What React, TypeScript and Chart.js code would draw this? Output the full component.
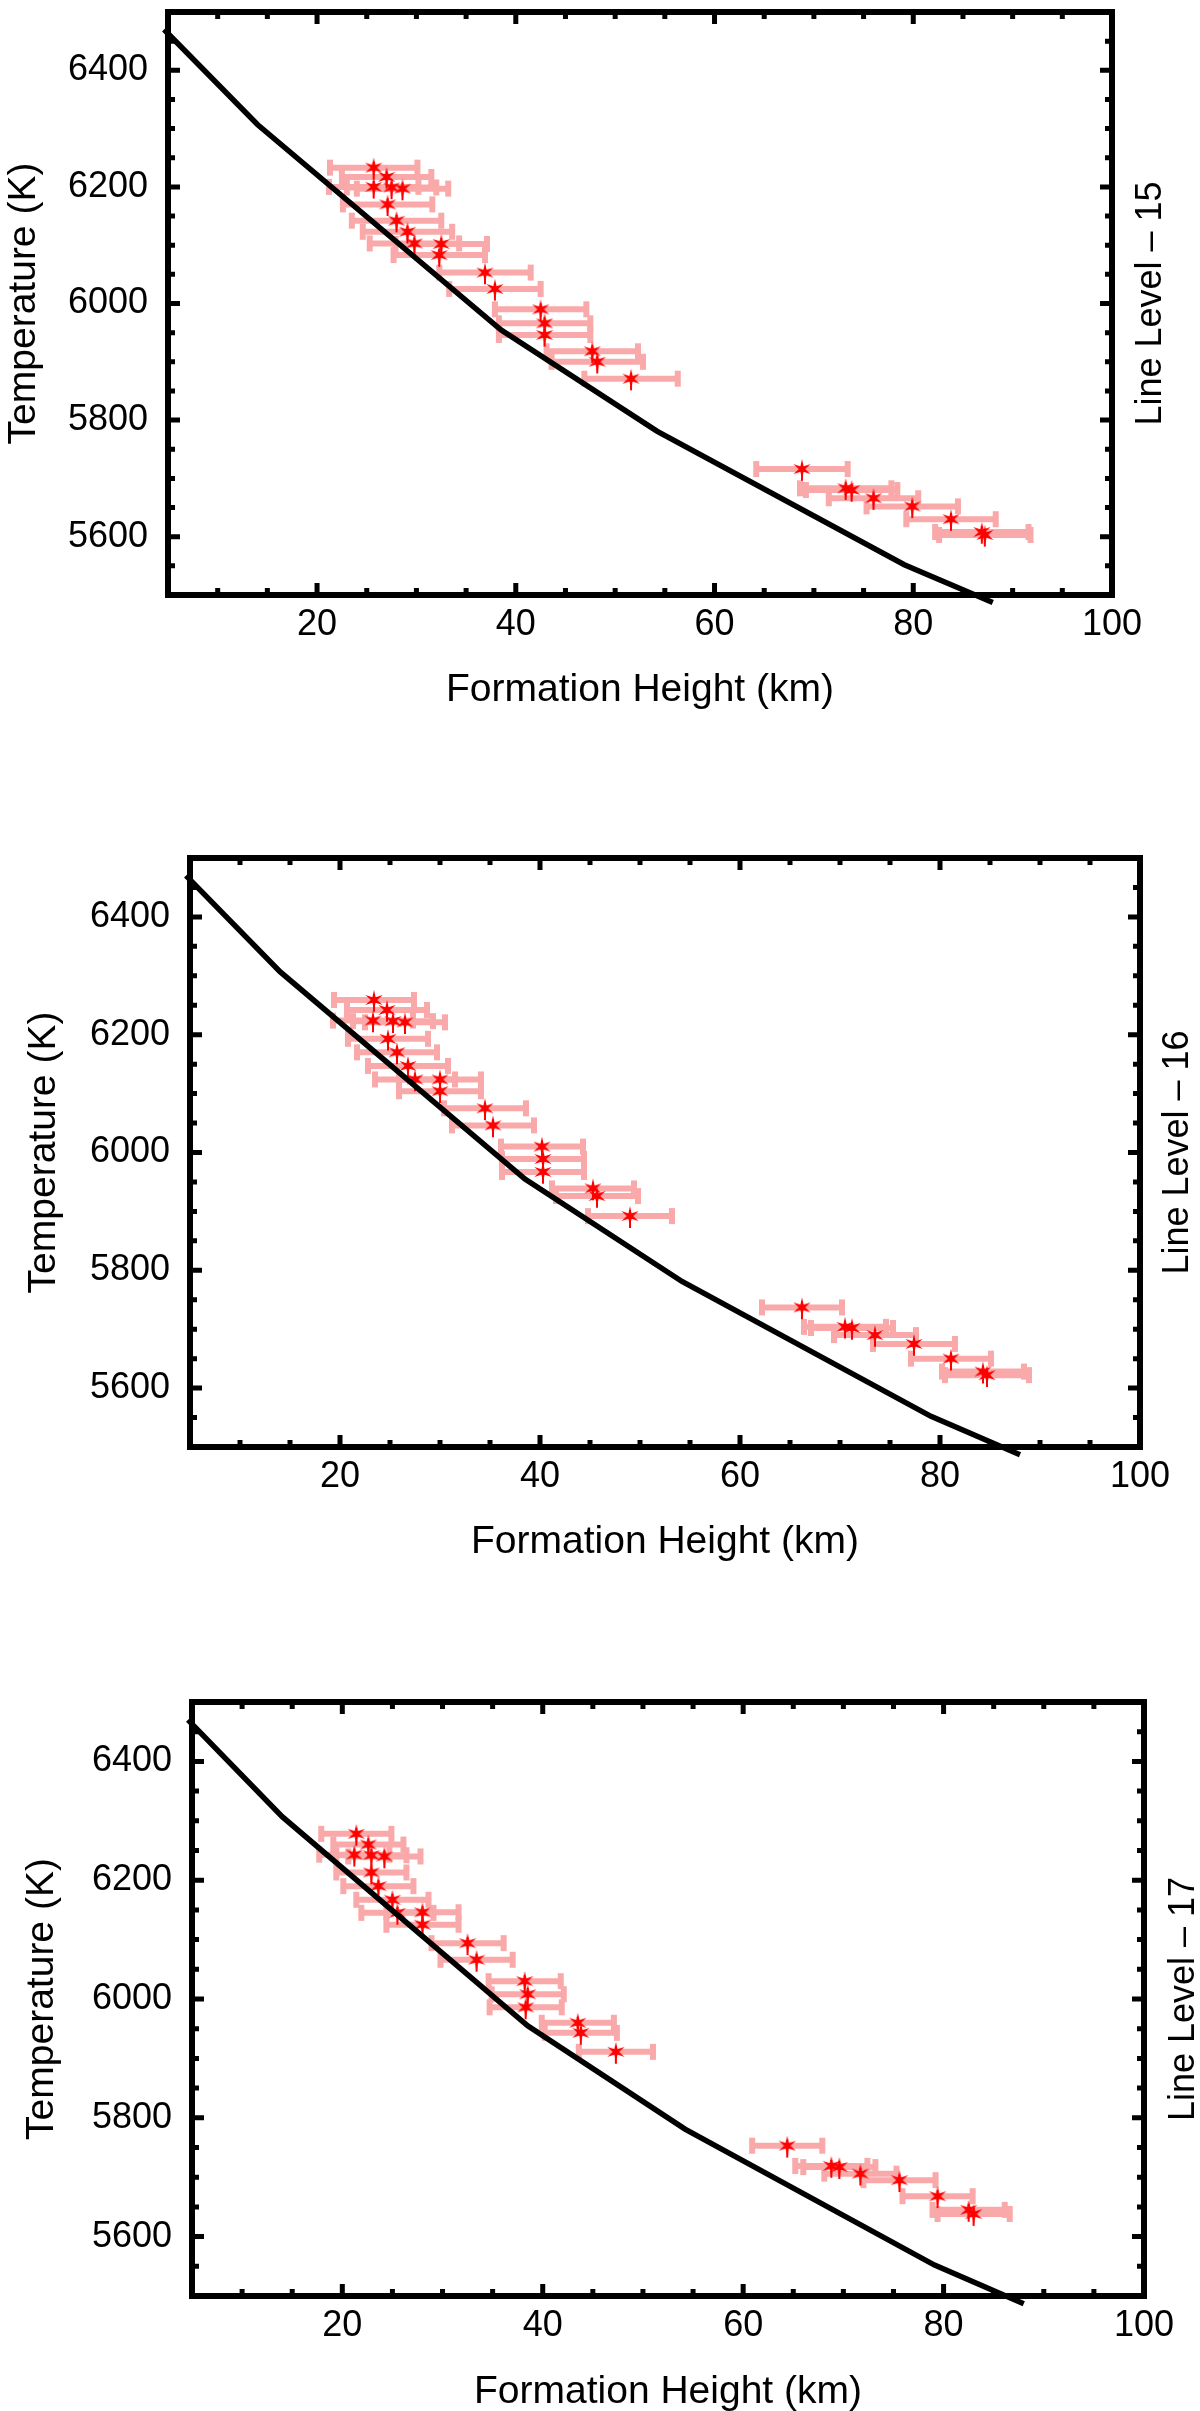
import { useEffect, useRef } from "react"
import { Chart, registerables } from "chart.js"

Chart.register(...registerables)

// model temperature curve (same in every panel)
const modelHeight = [4.6, 14, 38.5, 54.2, 79.1, 88]
const modelTemp = [6470, 6307, 5955, 5781, 5552, 5487]

const xMajorTicks = [20, 40, 60, 80, 100]
const xMinorTicks = [10, 15, 25, 30, 35, 45, 50, 55, 65, 70, 75, 85, 90, 95]
const yMajorTicks = [5600, 5800, 6000, 6200, 6400]
const yMinorTicks = [5550, 5650, 5700, 5750, 5850, 5900, 5950, 6050, 6100, 6150, 6250, 6300, 6350, 6450]

// Line level 15
const heights15 = [25.7, 27.0, 25.7, 27.5, 28.6, 27.1, 28.0, 29.1, 29.8, 32.5, 32.3, 36.9, 37.9, 42.5, 42.9, 42.9, 47.7, 48.2, 51.6, 68.8, 73.2, 73.8, 76.0, 79.9, 83.8, 86.9, 87.2]
const temps15 = [6233, 6217, 6200, 6199, 6197, 6170, 6142, 6123, 6103, 6102, 6083, 6053, 6025, 5990, 5966, 5946, 5918, 5900, 5871, 5716, 5683, 5680, 5666, 5652, 5630, 5608, 5603]
const errs15 = [4.4, 4.5, 4.5, 4.5, 4.6, 4.5, 4.5, 4.5, 4.5, 4.6, 4.6, 4.6, 4.6, 4.6, 4.6, 4.6, 4.6, 4.6, 4.7, 4.6, 4.6, 4.6, 4.5, 4.6, 4.5, 4.7, 4.6]

// Line level 16
const heights16 = [23.4, 24.7, 23.3, 25.3, 26.5, 24.8, 25.7, 26.8, 27.5, 30.0, 30.0, 34.5, 35.3, 40.2, 40.3, 40.3, 45.3, 45.7, 49.0, 66.2, 70.5, 71.2, 73.5, 77.4, 81.1, 84.3, 84.7]
const temps16 = [6259, 6242, 6224, 6223, 6221, 6193, 6170, 6147, 6124, 6124, 6104, 6075, 6046, 6010, 5989, 5967, 5939, 5926, 5892, 5737, 5704, 5702, 5690, 5675, 5650, 5628, 5622]
const errs16 = [4.0, 4.0, 4.0, 4.0, 4.0, 4.0, 4.0, 4.0, 4.0, 4.1, 4.1, 4.1, 4.1, 4.1, 4.1, 4.1, 4.1, 4.1, 4.2, 4.0, 4.1, 4.1, 4.1, 4.1, 4.0, 4.1, 4.2]

// Line level 17
const heights17 = [21.4, 22.6, 21.2, 22.9, 24.2, 22.9, 23.6, 25.0, 25.5, 28.0, 28.0, 32.5, 33.4, 38.2, 38.5, 38.3, 43.5, 43.8, 47.3, 64.4, 68.8, 69.6, 71.7, 75.6, 79.4, 82.5, 83.0]
const temps17 = [6278, 6260, 6243, 6242, 6240, 6213, 6190, 6167, 6145, 6146, 6125, 6094, 6066, 6030, 6008, 5986, 5960, 5943, 5911, 5753, 5719, 5717, 5706, 5695, 5668, 5645, 5638]
const errs17 = [3.5, 3.5, 3.5, 3.5, 3.6, 3.5, 3.5, 3.6, 3.6, 3.6, 3.6, 3.6, 3.6, 3.6, 3.6, 3.6, 3.6, 3.6, 3.7, 3.5, 3.6, 3.6, 3.6, 3.6, 3.5, 3.6, 3.6]

const FONT = "'Liberation Sans', Arial, sans-serif"
const PINK = "#f9a9a9"
const RED = "#ff0000"

type Panel = {
  heights: number[]
  temps: number[]
  errs: number[]
  label: string
  canvasTop: number
  canvasHeight: number
  left: number
  top: number
  right: number
  bottom: number
  yTitleX: number
  xTitleY: number
  labelX: number
}

const panels: Panel[] = [
  { heights: heights15, temps: temps15, errs: errs15, label: "Line Level – 15",
    canvasTop: 0, canvasHeight: 780, left: 168, top: 12, right: 1112, bottom: 595,
    yTitleX: 24, xTitleY: 690, labelX: 1151 },
  { heights: heights16, temps: temps16, errs: errs16, label: "Line Level – 16",
    canvasTop: 800, canvasHeight: 830, left: 190, top: 858, right: 1140, bottom: 1447,
    yTitleX: 44, xTitleY: 1542, labelX: 1178 },
  { heights: heights17, temps: temps17, errs: errs17, label: "Line Level – 17",
    canvasTop: 1640, canvasHeight: 771, left: 192, top: 1702, right: 1144, bottom: 2296,
    yTitleX: 42, xTitleY: 2392, labelX: 1184 },
]

function makeStar(): HTMLCanvasElement {
  const size = 24
  const c = document.createElement("canvas")
  c.width = size
  c.height = size
  const g = c.getContext("2d")!
  g.fillStyle = RED
  g.beginPath()
  const n = 6
  for (let i = 0; i < 2 * n; i++) {
    const a = -Math.PI / 2 + (i * Math.PI) / n
    const rad = i % 2 === 0 ? 10 : 3.2
    const px = size / 2 + rad * Math.cos(a)
    const py = size / 2 + rad * Math.sin(a)
    if (i === 0) g.moveTo(px, py)
    else g.lineTo(px, py)
  }
  g.closePath()
  g.fill()
  return c
}

function makePlugin(p: Panel) {
  return {
    id: "panelDecor",
    beforeDatasetsDraw(chart: Chart) {
      const { ctx } = chart
      const xs = chart.scales.x
      const ys = chart.scales.y
      ctx.save()
      // horizontal error bars
      ctx.strokeStyle = PINK
      ctx.fillStyle = PINK
      ctx.lineWidth = 6
      p.heights.forEach((h, i) => {
        const y = ys.getPixelForValue(p.temps[i])
        const x1 = xs.getPixelForValue(h - p.errs[i])
        const x2 = xs.getPixelForValue(h + p.errs[i])
        ctx.beginPath()
        ctx.moveTo(x1, y)
        ctx.lineTo(x2, y)
        ctx.stroke()
        ctx.fillRect(x1 - 3, y - 8, 6, 16)
        ctx.fillRect(x2 - 3, y - 8, 6, 16)
      })
      // small vertical error marks
      ctx.strokeStyle = RED
      ctx.lineWidth = 2
      p.heights.forEach((h, i) => {
        const x = xs.getPixelForValue(h)
        ctx.beginPath()
        ctx.moveTo(x, ys.getPixelForValue(p.temps[i] + 10))
        ctx.lineTo(x, ys.getPixelForValue(p.temps[i] - 20))
        ctx.stroke()
      })
      ctx.restore()
    },
    afterDraw(chart: Chart) {
      const { ctx, chartArea: a } = chart
      const xs = chart.scales.x
      const ys = chart.scales.y
      ctx.save()
      ctx.strokeStyle = "#000"
      ctx.lineWidth = 5
      ctx.beginPath()
      const tickX = (v: number, len: number) => {
        const x = xs.getPixelForValue(v)
        ctx.moveTo(x, a.bottom)
        ctx.lineTo(x, a.bottom - len)
        ctx.moveTo(x, a.top)
        ctx.lineTo(x, a.top + len)
      }
      const tickY = (v: number, len: number) => {
        const y = ys.getPixelForValue(v)
        ctx.moveTo(a.left, y)
        ctx.lineTo(a.left + len, y)
        ctx.moveTo(a.right, y)
        ctx.lineTo(a.right - len, y)
      }
      xMajorTicks.forEach((v) => tickX(v, 12))
      xMinorTicks.forEach((v) => tickX(v, 7))
      yMajorTicks.forEach((v) => tickY(v, 12))
      yMinorTicks.forEach((v) => tickY(v, 7))
      ctx.stroke()
      ctx.lineWidth = 6
      ctx.strokeRect(a.left, a.top, a.right - a.left, a.bottom - a.top)

      // right-hand panel label
      ctx.fillStyle = "#000"
      ctx.font = `36px ${FONT}`
      ctx.textAlign = "center"
      ctx.textBaseline = "middle"
      ctx.translate(p.labelX, (a.top + a.bottom) / 2)
      ctx.rotate(-Math.PI / 2)
      ctx.fillText(p.label, 0, 0)
      ctx.restore()
    },
  }
}

function PanelChart({ panel }: { panel: Panel }) {
  const chartRef = useRef<HTMLCanvasElement>(null)
  const chartInstance = useRef<Chart | null>(null)

  useEffect(() => {
    if (!chartRef.current) return
    if (chartInstance.current) chartInstance.current.destroy()
    const ctx = chartRef.current.getContext("2d")
    if (!ctx) return

    const p = panel
    const axisHeight = p.canvasTop + p.canvasHeight - p.bottom
    const titleHalf = (39 * 1.2) / 2

    chartInstance.current = new Chart(ctx, {
      type: "scatter",
      data: {
        datasets: [
          {
            type: "scatter",
            data: p.heights.map((h, i) => ({ x: h, y: p.temps[i] })),
            pointStyle: makeStar(),
            pointRadius: 10,
            order: 1,
          },
          {
            type: "line",
            data: modelHeight.map((h, i) => ({ x: h, y: modelTemp[i] })),
            borderColor: "#000",
            borderWidth: 5.5,
            pointRadius: 0,
            tension: 0,
            clip: false,
            order: 0,
          },
        ],
      },
      options: {
        animation: false,
        responsive: true,
        maintainAspectRatio: false,
        layout: {
          padding: { top: p.top - p.canvasTop, right: 1200 - p.right, left: 0, bottom: 0 },
        },
        plugins: {
          legend: { display: false },
          tooltip: { enabled: false },
        },
        scales: {
          x: {
            type: "linear",
            min: 5,
            max: 100,
            afterBuildTicks: (s) => {
              s.ticks = xMajorTicks.map((v) => ({ value: v }))
            },
            afterFit: (s) => {
              s.height = axisHeight
              s.paddingLeft = 0
              s.paddingRight = 0
            },
            grid: { display: false, drawTicks: false },
            border: { display: false },
            ticks: {
              padding: 8,
              color: "#000",
              font: { family: FONT, size: 36 },
              maxRotation: 0,
              autoSkip: false,
              callback: (v) => String(v),
            },
            title: {
              display: true,
              text: "Formation Height (km)",
              color: "#000",
              font: { family: FONT, size: 39 },
              padding: { top: 0, bottom: p.canvasTop + p.canvasHeight - p.xTitleY - titleHalf },
            },
          },
          y: {
            type: "linear",
            min: 5500,
            max: 6500,
            afterBuildTicks: (s) => {
              s.ticks = yMajorTicks.map((v) => ({ value: v }))
            },
            afterFit: (s) => {
              s.width = p.left
              s.paddingTop = 0
              s.paddingBottom = 0
            },
            grid: { display: false, drawTicks: false },
            border: { display: false },
            ticks: {
              padding: 20,
              color: "#000",
              font: { family: FONT, size: 36 },
              autoSkip: false,
              callback: (v) => String(v),
            },
            title: {
              display: true,
              text: "Temperature (K)",
              color: "#000",
              font: { family: FONT, size: 39 },
              padding: { top: p.yTitleX - titleHalf, bottom: 0 },
            },
          },
        },
      },
      plugins: [makePlugin(p)],
    })

    return () => {
      if (chartInstance.current) {
        chartInstance.current.destroy()
        chartInstance.current = null
      }
    }
  }, [panel])

  return (
    <div
      style={{
        position: "absolute",
        left: 0,
        top: panel.canvasTop,
        width: 1200,
        height: panel.canvasHeight,
      }}
    >
      <canvas ref={chartRef} />
    </div>
  )
}

export default function App() {
  return (
    <div
      style={{
        position: "absolute",
        left: 0,
        top: 0,
        width: 1200,
        height: 2411,
        background: "#fff",
        overflow: "hidden",
      }}
    >
      {panels.map((p) => (
        <PanelChart key={p.label} panel={p} />
      ))}
    </div>
  )
}
